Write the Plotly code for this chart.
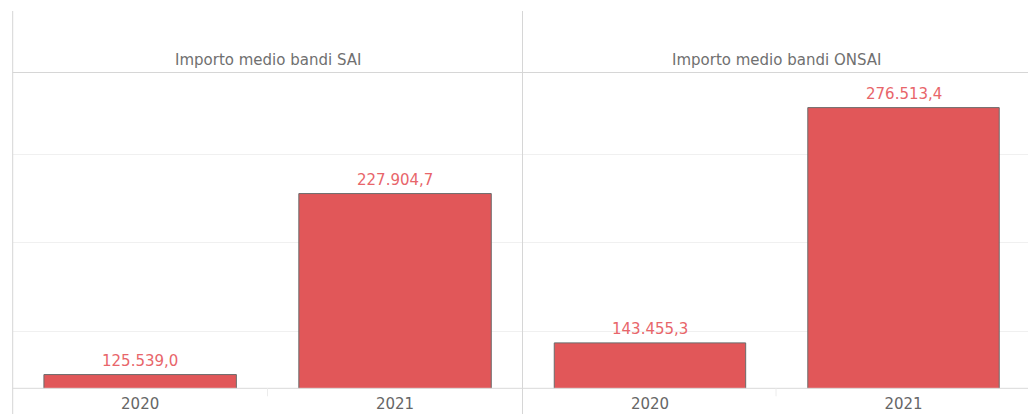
import plotly.graph_objects as go

# Average grant amounts per programme and year
years = ["2020", "2021"]
sai_values = [125539.0, 227904.7]
onsai_values = [143455.3, 276513.4]
panel_titles = ["Importo medio bandi SAI", "Importo medio bandi ONSAI"]
grid_values = [150000, 200000, 250000]

W, H = 1028, 414
BAR_COLOR = "#e15759"
LABEL_COLOR = "#e8656a"
LINE_COLOR = "#d6d6d6"
FONT = "DejaVu Sans"


def px_x(p):
    return p / W


def px_y(p):
    return (H - p) / H


def it_number(v):
    s = f"{v:,.1f}"
    return s.replace(",", "X").replace(".", ",").replace("X", ".")


left_edge, divider = 12.7, 522.5
plot_top, plot_bottom = 72.5, 388.3
y_range = [117775, 296375]

fig = go.Figure()
series = [sai_values, onsai_values]
for i, vals in enumerate(series):
    suffix = "" if i == 0 else str(i + 1)
    fig.add_trace(go.Bar(
        x=years, y=vals,
        xaxis="x" + suffix, yaxis="y" + suffix,
        marker=dict(color=BAR_COLOR, line=dict(color="#6b6b6b", width=1)),
        hoverinfo="skip", showlegend=False,
    ))
    for idx, v in enumerate(vals):
        fig.add_annotation(
            x=idx, y=v, xref="x" + suffix, yref="y" + suffix,
            text=it_number(v), showarrow=False,
            yanchor="middle", yshift=14,
            font=dict(family=FONT, size=15, color=LABEL_COLOR),
        )

x_domains = [[px_x(left_edge), px_x(divider)], [px_x(divider + 0.7), 1.0]]
x_ranges = [[-0.5, 1.5], [-0.5, 1.491]]
y_domain = [px_y(plot_bottom), px_y(plot_top)]

axis_common = dict(
    type="category", showgrid=False, zeroline=False,
    showline=False, automargin=False,
    ticks="", tickfont=dict(family=FONT, size=15, color="#666666"),
    ticklabelstandoff=5, fixedrange=True,
)
yaxis_common = dict(
    range=y_range, domain=y_domain, showticklabels=False, ticks="",
    tickvals=grid_values, showgrid=True, gridcolor="#f0f0f0", gridwidth=1,
    zeroline=False, showline=False, fixedrange=True, automargin=False,
)

fig.update_layout(
    width=W, height=H,
    margin=dict(l=0, r=0, t=0, b=0, autoexpand=False),
    paper_bgcolor="white", plot_bgcolor="white",
    bargap=0.245,
    xaxis=dict(domain=x_domains[0], range=x_ranges[0], anchor="y", **axis_common),
    xaxis2=dict(domain=x_domains[1], range=x_ranges[1], anchor="y2", **axis_common),
    yaxis=dict(anchor="x", **yaxis_common),
    yaxis2=dict(anchor="x2", **yaxis_common),
)

# Panel headers
header_centers = [267.5, 776.0]
for title, xc in zip(panel_titles, header_centers):
    fig.add_annotation(
        x=px_x(xc), y=px_y(60), xref="paper", yref="paper",
        text=title, showarrow=False, xanchor="center", yanchor="middle",
        font=dict(family=FONT, size=15, color="#707070"),
    )

line = dict(color=LINE_COLOR, width=1)
shapes = [
    # outer left border and panel divider
    dict(type="line", xref="paper", yref="paper", x0=px_x(left_edge), x1=px_x(left_edge),
         y0=0, y1=px_y(11), line=line),
    dict(type="line", xref="paper", yref="paper", x0=px_x(divider), x1=px_x(divider),
         y0=0, y1=px_y(11), line=line),
    # header separator and baseline
    dict(type="line", xref="paper", yref="paper", x0=px_x(left_edge), x1=1,
         y0=px_y(plot_top), y1=px_y(plot_top), line=line),
    dict(type="line", xref="paper", yref="paper", x0=px_x(left_edge), x1=1,
         y0=px_y(plot_bottom), y1=px_y(plot_bottom), line=dict(color="#d9d9d9", width=1)),
]
# faint separators between year headers
for xm in header_centers:
    shapes.append(dict(type="line", xref="paper", yref="paper", x0=px_x(xm), x1=px_x(xm),
                       y0=px_y(plot_bottom), y1=px_y(plot_bottom + 8),
                       line=dict(color="#ececec", width=1)))
fig.update_layout(shapes=shapes)

fig.write_html("out.html")
